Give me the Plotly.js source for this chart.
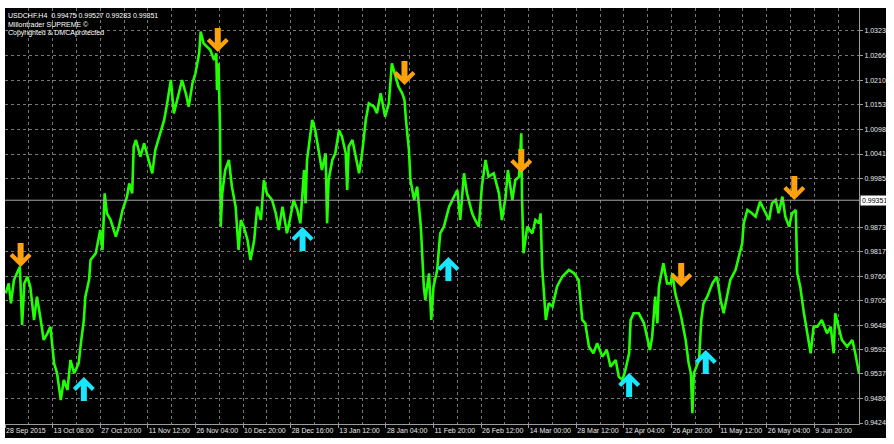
<!DOCTYPE html>
<html>
<head>
<meta charset="utf-8">
<script src="https://cdn.plot.ly/plotly-3.0.1.min.js"></script>
<style>
html,body{margin:0;padding:0;background:#fff;width:894px;height:444px;overflow:hidden}
#chart{position:absolute;left:5px;top:8px;width:881px;height:430px;overflow:hidden;background:#000}
</style>
</head>
<body>
<div id="chart"></div>
<script>
// ---- data (bar index on H4 chart, price) ----
const dateLabels = ["28 Sep 2015","13 Oct 08:00","27 Oct 20:00","11 Nov 12:00","26 Nov 04:00","10 Dec 20:00","28 Dec 16:00","13 Jan 12:00","28 Jan 04:00","11 Feb 20:00","26 Feb 12:00","14 Mar 00:00","28 Mar 12:00","12 Apr 04:00","26 Apr 20:00","11 May 12:00","26 May 04:00","9 Jun 20:00"];
const barsPerLabel = 64;
const priceTicks = [1.03230,1.02660,1.02105,1.01535,1.00980,1.00410,0.99855,0.98730,0.98175,0.97605,0.97050,0.96480,0.95925,0.95370,0.94800,0.94245];

const bars = [1,5,8,12,16,20,23,26,30,34,39,43,48,52,57,61,66,70,75,79,84,88,93,99,102,106,108,113,115,122,128,131,134,137,142,149,153,158,164,167,171,173,176,182,187,191,198,202,209,214,218,223,227,232,238,243,247,252,256,261,263,267,272,276,281,284,285,287,289,290,292,296,301,305,310,314,317,321,326,330,335,339,344,348,352,359,364,368,373,379,
382,388,393,397,402,404,406,411,413,417,422,426,431,433,435,440,444,449,453,458,460,462,467,471,476,480,485,489,496,500,505,511,516,520,525,529,534,537,539,543,545,550,554,559,563,565,570,573,576,581,585,590,597,601,608,612,617,621,628,632,637,641,646,650,657,664,668,673,676,682,686,691,694,695,697,702,709,713,718,720,722,727,731,736,742,749,758,
765,771,776,780,785,791,796,803,809,814,821,825,830,834,839,841,845,852,859,863,867,870,874,877,879,885,890,895,897,901,908,915,919,922,924,926,933,936,939,944,951,957,962,966,971,975,982,986,991,993,998,1004,1009,1015,1020,1027,1031,1036,1040,1045,1049,1054,1058,1063,1065,1069,1074,1078,1083,1087,1092,1098,1105,1110,1114,1116,1121,1125,1132,1139,1143,1148];

const prices = [0.97217,0.97446,0.96988,0.97523,0.97676,0.97828,0.96491,0.97446,0.97599,0.97370,
0.96606,0.97141,0.96606,0.96148,0.96300,0.96453,0.95613,0.95384,0.94772,0.95231,
0.95002,0.95689,0.95384,0.95613,0.96071,0.96606,0.97141,0.97523,0.97981,0.98134,
0.98669,0.98210,0.99509,0.99051,0.98898,0.98516,0.98745,0.99127,0.99433,0.99738,
0.99509,1.00579,1.00732,1.00350,1.00655,1.00426,0.99968,1.00502,1.00884,1.01190,
1.01572,1.02107,1.01343,1.01725,1.02107,1.01801,1.01496,1.02030,1.02260,1.02718,
1.03215,1.02947,1.02871,1.02794,1.02565,1.02718,1.01878,1.02489,1.01037,0.98745,
0.99509,1.00044,1.00273,0.99662,0.99204,0.98210,0.98898,0.98745,0.98440,0.97981,
0.98440,0.99204,0.98898,0.99815,0.99509,0.99356,0.99051,0.98669,0.99204,0.98592,
0.98822,0.99356,0.99127,0.98822,1.00044,0.99280,1.00273,1.00884,1.01190,1.00961,
1.00426,1.00044,1.00426,0.98822,0.99815,1.00273,1.00426,1.00961,1.00808,1.00426,
0.99586,1.00579,1.00732,1.00426,0.99968,1.00426,1.01190,1.01572,1.01496,1.01343,
1.01801,1.01266,1.01572,1.02489,1.02183,1.01954,1.01801,1.01648,1.01190,1.00502,
0.99815,0.99356,0.99662,0.98745,0.97370,0.97064,0.97676,0.96606,0.97370,0.97752,
0.98592,0.98745,0.99204,0.99356,0.99586,0.98898,0.99968,0.99509,0.99051,0.98898,
0.98745,0.99662,1.00273,0.99891,0.99968,0.99509,0.98898,0.99433,1.00044,0.99356,
0.99815,0.99891,1.00884,0.99433,0.98134,0.98745,0.98592,0.98898,0.98822,0.99051,
0.97828,0.96606,0.96988,0.96912,0.97370,0.97599,0.97752,
0.97676,0.97523,0.96606,0.96530,0.95995,0.95842,0.96071,0.95766,0.95918,0.95536,
0.95689,0.95307,0.95231,0.95460,0.95842,0.96606,0.96759,0.96759,0.96530,0.96224,
0.95918,0.96224,0.97141,0.96530,0.97370,0.97905,0.97446,0.97446,0.97676,0.97217,
0.96759,0.96148,0.95613,0.95384,0.94467,0.95384,0.95689,0.96606,0.96988,0.97141,
0.97446,0.97599,0.97064,0.96759,0.97141,0.97523,0.97752,0.98058,0.98363,0.98822,
0.99127,0.99051,0.98974,0.99318,0.99127,0.98898,0.99280,0.99356,0.99051,0.99433,
0.98974,0.98745,0.99051,0.99127,0.97676,0.97370,0.96759,0.96377,0.95842,0.96453,
0.96453,0.96606,0.96300,0.96453,0.95842,0.96759,0.96377,0.96148,0.95995,0.96148,
0.95842,0.95384];

// sell signals (down arrows) and buy signals (up arrows): bar index and price of arrow tip
const sellBars = [21,286,537,694,909,1061];
const sellPrices = [0.97821,1.02749,1.01992,0.99975,0.97362,0.99356];
const buyBars = [106,400,596,839,942];
const buyPrices = [0.95299,0.98737,0.98050,0.95391,0.95918];

const headerLines = ["USDCHF.H4  0.99475 0.99527 0.99283 0.99351","Millontrader SUPREME ©","Copyrighted & DMCAprotected"];
const currentPrice = 0.99351;

// ---- build ----
const majorVals = dateLabels.map((d,i)=>i*barsPerLabel);
const minorVals = dateLabels.map((d,i)=>i*barsPerLabel + barsPerLabel/2);

const gridCol = '#767676';
const axisCol = '#9c9c9c';
const txtCol = '#e8e8e8';
const fontFam = 'Liberation Sans, Arial, sans-serif';

const downPath = 'M -3 24 L 3 24 L 3 9 L 8 14 L 11 11 L 0 0 L -11 11 L -8 14 L -3 9 Z';
const upPath = 'M -3 -24 L 3 -24 L 3 -9 L 8 -14 L 11 -11 L 0 0 L -11 -11 L -8 -14 L -3 -9 Z';

const shapes = [{type:'line', xref:'paper', x0:0, x1:1, yref:'y', y0:currentPrice, y1:currentPrice, line:{color:'#a8a8a8', width:1}}];
sellBars.forEach((b,i)=>shapes.push({type:'path', xref:'x', yref:'y', xsizemode:'pixel', ysizemode:'pixel', xanchor:b, yanchor:sellPrices[i], path:downPath, fillcolor:'#ffa10a', line:{width:0}}));
buyBars.forEach((b,i)=>shapes.push({type:'path', xref:'x', yref:'y', xsizemode:'pixel', ysizemode:'pixel', xanchor:b, yanchor:buyPrices[i], path:upPath, fillcolor:'#19e6ff', line:{width:0}}));

const annotations = headerLines.map((t,i)=>({text:t, xref:'paper', yref:'paper', x:0, y:1, xanchor:'left', yanchor:'middle', xshift:1, yshift:-7-9*i, showarrow:false, font:{family:fontFam, size:7, color:'#ffffff'}}));
annotations.push({text:currentPrice.toFixed(5), xref:'paper', x:1, xanchor:'left', xshift:1, yref:'y', y:currentPrice, yanchor:'middle', showarrow:false, bgcolor:'#ffffff', borderpad:1, font:{family:fontFam, size:7, color:'#000000'}});

const trace = {type:'scatter', mode:'lines', x:bars, y:prices, line:{color:'#22ff00', width:2.6}, hoverinfo:'skip'};

const layout = {
  width:881, height:430,
  margin:{l:0, r:27, t:0, b:14, pad:0},
  paper_bgcolor:'#000', plot_bgcolor:'#000',
  showlegend:false,
  xaxis:{range:[0,1148], tickmode:'array', tickvals:majorVals, ticktext:dateLabels, tickangle:0,
    ticks:'outside', ticklen:3, tickcolor:axisCol, tickwidth:1,
    showgrid:true, gridcolor:gridCol, griddash:'3px,3px', gridwidth:1,
    zeroline:false, showline:true, linecolor:axisCol, linewidth:1,
    ticklabelposition:'outside right', tickfont:{family:fontFam, size:7, color:txtCol},
    minor:{tickmode:'array', tickvals:minorVals, showgrid:true, gridcolor:gridCol, griddash:'3px,3px', gridwidth:1, ticks:''},
    automargin:false, fixedrange:true},
  yaxis:{side:'right', range:[0.94222,1.03757], tickmode:'array', tickvals:priceTicks, tickformat:'.5f',
    ticks:'outside', ticklen:3, tickcolor:axisCol, tickwidth:1,
    showgrid:true, gridcolor:gridCol, griddash:'3px,3px', gridwidth:1,
    zeroline:false, showline:true, linecolor:axisCol, linewidth:1,
    tickfont:{family:fontFam, size:7, color:txtCol}, automargin:false, fixedrange:true},
  shapes:shapes,
  annotations:annotations
};

Plotly.newPlot('chart', [trace], layout, {displayModeBar:false, staticPlot:true});
</script>
</body>
</html>
